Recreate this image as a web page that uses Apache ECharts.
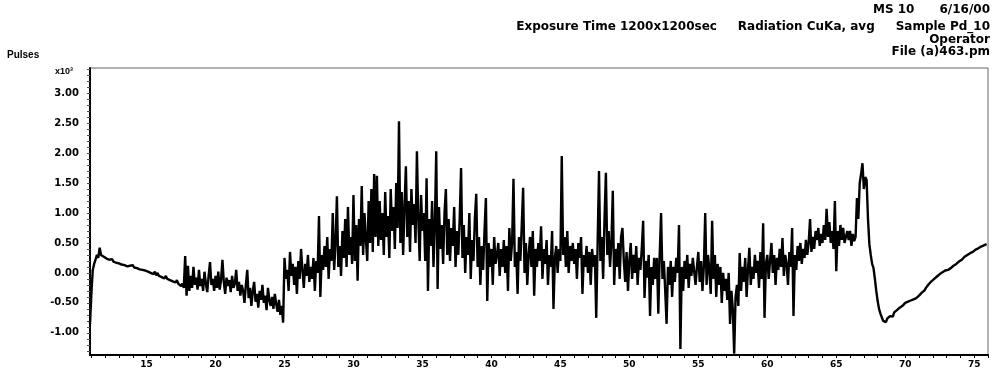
<!DOCTYPE html>
<html>
<head>
<meta charset="utf-8">
<script src="https://cdn.jsdelivr.net/npm/echarts@6/dist/echarts.min.js"></script>
<style>
  html, body { margin: 0; padding: 0; background: #fff; }
  #chart { width: 995px; height: 374px; }
</style>
</head>
<body>
<div id="chart"></div>
<script>
// scan: 2-theta from 10.9 deg, step 0.1 deg
const angleStart = 10.9;
const angleStep = 0.1;
// pulses (x10^3), one row per degree
const pulses = [
  -0.85,
  -0.35, 0.05, 0.15, 0.22, 0.3, 0.25, 0.42, 0.3, 0.32, 0.27,
  0.28, 0.24, 0.26, 0.22, 0.2, 0.23, 0.19, 0.21, 0.17, 0.2,
  0.16, 0.18, 0.14, 0.17, 0.13, 0.15, 0.11, 0.14, 0.12, 0.1,
  0.13, 0.09, 0.12, 0.08, 0.1, 0.06, 0.09, 0.05, 0.08, 0.04,
  0.06, 0.02, 0.05, 0.0, 0.03, -0.02, 0.02, -0.04, 0.0, -0.05,
  -0.02, -0.07, -0.04, -0.09, -0.05, -0.1, -0.07, -0.12, -0.09, -0.14,
  -0.11, -0.16, -0.12, -0.18, -0.15, -0.22, -0.18, -0.25, 0.28, -0.38,
  0.12, -0.3, -0.05, -0.25, 0.1, -0.2, -0.08, -0.28, 0.05, -0.22,
  -0.1, -0.3, 0.02, -0.18, -0.32, -0.05, 0.18, -0.2, -0.1, -0.3,
  -0.05, -0.25, 0.02, -0.28, -0.12, 0.22, -0.15, -0.35, -0.08, -0.22,
  -0.12, -0.32, -0.05, -0.25, -0.18, 0.05, -0.3, -0.15, -0.38, -0.2,
  -0.3, -0.5, -0.2, 0.05, -0.42, -0.25, -0.55, -0.3, -0.15, -0.48,
  -0.35, -0.58, -0.3, -0.45, -0.2, -0.5, -0.38, -0.62, -0.25, -0.45,
  -0.55, -0.4, -0.6, -0.35, -0.52, -0.65, -0.45, -0.7, -0.55, -0.83,
  0.25, -0.1, 0.05, -0.3, 0.35, -0.05, 0.15, -0.2, 0.1, -0.35,
  0.2, -0.1, 0.4, 0.05, -0.25, 0.15, -0.05, 0.3, -0.15, 0.1,
  -0.1, 0.25, -0.3, 0.2, 0.0, 0.95, -0.4, 0.3, 0.05, 0.45,
  0.1, 0.6, -0.1, 0.4, 0.2, 1.0, 0.05, 0.5, 1.28, 0.1,
  0.45, -0.05, 0.7, 0.25, 0.9, 0.1, 1.1, 0.3, 0.6, 0.15,
  1.3, 0.2, 0.8, -0.13, 0.9, 0.45, 1.45, 0.3, 1.0, 0.55,
  0.2, 1.2, 0.5, 1.4, 0.35, 1.65, 0.6, 1.62, 0.45, 1.2,
  0.55, 1.0, 0.3, 1.35, 0.6, 0.95, 0.25, 1.4, 0.7, 1.1,
  0.4, 1.5, 0.75, 2.53, 0.5, 1.35, 0.3, 1.1, 1.78, 0.6,
  1.2, 0.35, 1.4, 0.8, 1.15, 0.5, 2.03, 0.9, 0.2, 1.3,
  0.7, 1.0, 0.2, 1.58, -0.3, 0.9, 0.45, 1.2, 0.1, 0.8,
  2.03, -0.27, 1.1, 0.4, 0.8, 0.15, 1.0, 1.4, 0.3, 0.9,
  0.2, 0.75, 0.45, 1.1, 0.1, 0.7, 0.3, 0.9, 1.75, 0.25,
  0.8, 0.0, 0.6, 0.3, 1.0, -0.1, 0.55, 0.2, 0.9, 1.32,
  0.1, 0.6, -0.2, 0.45, 0.05, 0.7, 1.25, -0.47, 0.5, 0.1,
  0.4, -0.2, 0.6, 0.15, 0.3, 0.5, -0.05, 0.4, 0.1, 0.55,
  0.0, 0.45, -0.3, 0.75, 0.2, 0.5, 1.57, 0.1, 0.35, -0.35,
  0.6, 0.2, 0.8, 1.42, 0.0, 0.5, -0.2, 0.3, 0.6, 0.1,
  0.7, -0.38, 0.4, 0.1, 0.5, 0.2, 0.78, -0.1, 0.4, 0.15,
  0.55, -0.2, 0.3, 0.1, 0.7, -0.6, 0.25, 0.45, 0.0, 0.4,
  0.2, 1.95, 0.3, 0.6, 0.1, 0.7, 0.0, 0.45, 0.2, 0.5,
  0.15, 0.4, -0.1, 0.5, 0.25, 0.6, -0.35, 0.3, 0.1, 0.45,
  0.0, 0.35, -0.2, 0.4, 0.1, 0.3, -0.75, 0.5, 1.7, 0.2,
  0.6, -0.1, 0.9, 1.67, 0.3, 0.7, 0.1, 0.5, 1.37, -0.2,
  0.4, 0.1, 0.5, -0.1, 0.6, 0.75, 0.2, -0.15, 0.35, -0.3,
  0.2, 0.5, -0.1, 0.3, 0.0, 0.45, -0.2, 0.25, 0.05, 0.4,
  0.87, -0.42, 0.2, -0.08, 0.3, -0.72, 0.1, -0.2, 0.25, -0.1,
  0.25, -0.68, 0.3, 1.0, -0.1, 0.2, -0.3, -0.85, 0.1, -0.2,
  0.2, -0.4, 0.1, -0.15, 0.25, 0.0, 0.8, -1.27, 0.1, -0.3,
  0.2, -0.1, 0.3, -0.25, 0.15, -0.05, 0.25, 0.03, -0.2, 0.1,
  0.35, -0.15, 0.2, -0.3, 0.1, 1.0, -0.2, 0.3, 0.05, -0.35,
  0.87, -0.1, 0.3, -0.4, 0.15, -0.2, 0.1, -0.5, 0.0, -0.3,
  -0.1, -0.45, 0.0, -0.85, -0.3, -0.6, -1.35, -0.4, -0.2, -0.55,
  0.33, -0.3, 0.1, -0.15, 0.25, -0.4, 0.05, 0.42, -0.2, 0.1,
  -0.1, 0.3, 0.0, 0.2, -0.25, 0.35, -0.1, 0.83, -0.75, 0.15,
  0.3, -0.1, 0.2, 0.5, 0.0, 0.3, -0.2, 0.25, 0.05, 0.4,
  0.1, 0.58, -0.05, 0.3, 0.15, -0.2, 0.35, 0.1, 0.75, -0.72,
  0.3, 0.05, 0.45, 0.2, 0.5, 0.15, 0.4, 0.25, 0.55, 0.3,
  0.5, 0.9, 0.35, 0.6, 0.4, 0.7, 0.55, 0.75, 0.45, 0.65,
  0.5, 0.8, 0.55, 1.07, 0.6, 0.85, 0.5, 0.7, 0.4, 1.2,
  0.03, 0.7, 0.45, 0.8, 0.55, 0.75, 0.5, 0.6, 0.7, 0.55,
  0.7, 0.45, 0.65, 0.53, 0.6, 1.25, 0.9, 1.5, 1.65, 1.83,
  1.4, 1.6, 1.55, 0.9, 0.48, 0.3, 0.15, 0.08, -0.1, -0.3,
  -0.47, -0.6, -0.68, -0.74, -0.8, -0.78, -0.82, -0.76, -0.78, -0.72,
  -0.7, -0.73, -0.66, -0.68, -0.62, -0.65, -0.58, -0.57, -0.55, -0.52,
  -0.5, -0.53, -0.48, -0.49, -0.46, -0.47, -0.44, -0.45, -0.42, -0.4,
  -0.38, -0.37, -0.33, -0.31, -0.29, -0.25, -0.23, -0.19, -0.18, -0.14,
  -0.12, -0.1, -0.09, -0.06, -0.05, -0.02, -0.02, 0.01, 0.02, 0.04,
  0.05, 0.05, 0.07, 0.08, 0.1, 0.12, 0.12, 0.15, 0.17, 0.19,
  0.21, 0.22, 0.25, 0.27, 0.27, 0.3, 0.31, 0.33, 0.35, 0.35,
  0.38, 0.39, 0.41, 0.41, 0.43, 0.44, 0.45, 0.46, 0.46, 0.48
];

const xTickLabels = [15, 20, 25, 30, 35, 40, 45, 50, 55, 60, 65, 70, 75];
const yTickLabels = [-1.0, -0.5, 0.0, 0.5, 1.0, 1.5, 2.0, 2.5, 3.0];

const headerLines = [
  'MS 10      6/16/00',
  'Exposure Time 1200x1200sec     Radiation CuKa, avg     Sample Pd_10',
  'Operator',
  'File (a)463.pm'
];

const xMin = 10.9, xMax = 76;
const yMin = -1.37, yMax = 3.42;

const seriesData = pulses.map((v, i) => [+(angleStart + i * angleStep).toFixed(2), v]);

const xMinorTicks = [];
for (let a = 11; a <= 76; a++) xMinorTicks.push(a);
const yMinorTicks = [];
for (let k = -13; k <= 34; k++) yMinorTicks.push(+(k / 10).toFixed(1));

const font = 'Liberation Sans, Arial, sans-serif';
const wideFont = 'DejaVu Sans, Verdana, sans-serif';

const chart = echarts.init(document.getElementById('chart'), null, { renderer: 'canvas' });

const option = {
  animation: false,
  backgroundColor: '#fff',
  grid: {
    left: 90,
    right: 7,
    top: 68,
    bottom: 19,
    show: true,
    borderColor: '#666',
    borderWidth: 1
  },
  graphic: [
    {
      type: 'text', left: 7, top: 50,
      style: { text: 'Pulses', font: 'bold 10px ' + font, fill: '#000' }
    },
    {
      type: 'text', left: 55, top: 67,
      style: { text: 'x10\u00B3', font: 'bold 9px ' + font, fill: '#000' }
    },
    ...headerLines.map((t, i) => ({
      type: 'text',
      right: 5,
      top: [4, 21, 34, 46][i],
      style: { text: t, font: 'bold 12px ' + wideFont, fill: '#000', textAlign: 'right' }
    }))
  ],
  xAxis: {
    type: 'value',
    min: xMin,
    max: xMax,
    axisLine: { onZero: false, lineStyle: { color: '#000', width: 2 } },
    axisTick: {
      customValues: xMinorTicks,
      length: 3,
      lineStyle: { color: '#000' }
    },
    axisLabel: {
      customValues: xTickLabels,
      color: '#000',
      fontFamily: wideFont,
      fontWeight: 'bold',
      fontSize: 9,
      margin: 5
    },
    splitLine: { show: false }
  },
  yAxis: {
    type: 'value',
    min: yMin,
    max: yMax,
    axisLine: { show: true, onZero: false, lineStyle: { color: '#000', width: 2 } },
    axisTick: {
      customValues: yMinorTicks,
      length: 3,
      lineStyle: { color: '#555' }
    },
    axisLabel: {
      customValues: yTickLabels,
      formatter: (v) => v.toFixed(2),
      color: '#000',
      fontFamily: wideFont,
      fontWeight: 'bold',
      fontSize: 10,
      margin: 11
    },
    splitLine: { show: false }
  },
  series: [{
    type: 'line',
    data: seriesData,
    showSymbol: false,
    symbol: 'none',
    lineStyle: { color: '#000', width: 2.4 },
    silent: true
  }]
};

chart.setOption(option);
</script>
</body>
</html>
